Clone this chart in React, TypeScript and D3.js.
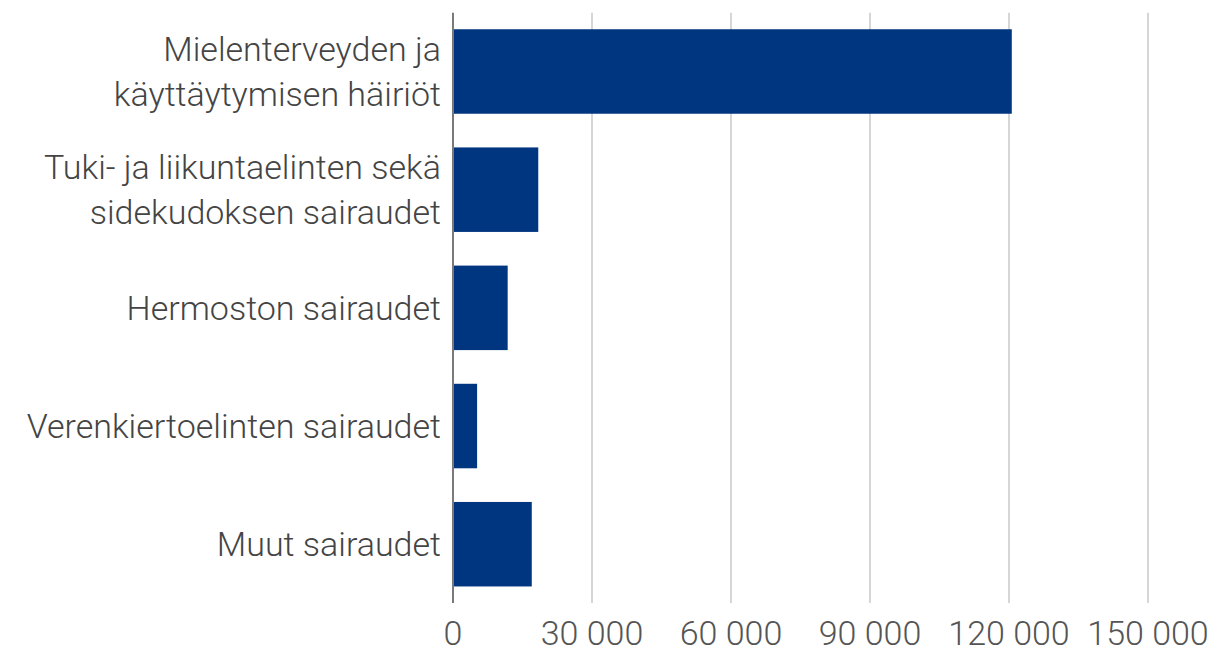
import React, { useEffect, useRef } from "react";
import * as d3 from "d3";

// categories (each entry = lines of the label)
const categories = [
  ["Mielenterveyden ja", "käyttäytymisen häiriöt"],
  ["Tuki- ja liikuntaelinten sekä", "sidekudoksen sairaudet"],
  ["Hermoston sairaudet"],
  ["Verenkiertoelinten sairaudet"],
  ["Muut sairaudet"],
];
const values = [120600, 18400, 11800, 5200, 17000];
const ticks = [0, 30000, 60000, 90000, 120000, 150000];

const App = () => {
  const ref = useRef<SVGSVGElement>(null);

  useEffect(() => {
    const svg = d3.select(ref.current);
    svg.selectAll("*").remove();

    const width = 1217;
    const height = 655;
    const margin = { top: 12.7, right: 69, bottom: 52, left: 453 };
    const font = "Roboto, 'Open Sans', sans-serif";

    const x = d3
      .scaleLinear()
      .domain([0, 150000])
      .range([margin.left, width - margin.right]);

    const y = d3
      .scaleBand()
      .domain(categories.map((d, i) => String(i)))
      .range([margin.top, height - margin.bottom])
      .paddingInner(0.285)
      .paddingOuter(0.14);

    // gridlines
    svg
      .append("g")
      .selectAll("line")
      .data(ticks.slice(1))
      .enter()
      .append("line")
      .attr("x1", (d) => x(d))
      .attr("x2", (d) => x(d))
      .attr("y1", margin.top)
      .attr("y2", height - margin.bottom)
      .attr("stroke", "#c9c9c9")
      .attr("stroke-width", 1.5);

    // bars
    svg
      .append("g")
      .selectAll("rect")
      .data(values)
      .enter()
      .append("rect")
      .attr("x", x(0))
      .attr("y", (d, i) => y(String(i)))
      .attr("width", (d) => x(d) - x(0))
      .attr("height", y.bandwidth())
      .attr("fill", "#00357f");

    // axis line
    svg
      .append("line")
      .attr("x1", x(0))
      .attr("x2", x(0))
      .attr("y1", margin.top)
      .attr("y2", height - margin.bottom)
      .attr("stroke", "#7a7a7a")
      .attr("stroke-width", 2);

    // tick labels
    svg
      .append("g")
      .selectAll("text")
      .data(ticks)
      .enter()
      .append("text")
      .attr("x", (d) => x(d))
      .attr("y", 645)
      .attr("text-anchor", "middle")
      .attr("fill", "#555")
      .style("font-family", font)
      .style("font-size", "34px")
      .style("font-weight", 300)
      .text((d) => d3.format(",")(d).replace(/,/g, " "));

    // category labels
    const lineH = 45;
    categories.forEach((lines, i) => {
      const cy = (y(String(i)) as number) + y.bandwidth() / 2;
      const t = svg
        .append("text")
        .attr("text-anchor", "end")
        .attr("fill", "#444")
        .style("font-family", font)
        .style("font-size", "34px")
        .style("font-weight", 300);
      lines.forEach((ln, j) => {
        t.append("tspan")
          .attr("x", margin.left - 12)
          .attr("y", cy + 12 + (j - (lines.length - 1) / 2) * lineH)
          .text(ln);
      });
    });
  }, []);

  return (
    <svg
      ref={ref}
      width={1217}
      height={655}
      style={{ position: "absolute", left: 0, top: 0, background: "#fff" }}
    />
  );
};

export default App;
